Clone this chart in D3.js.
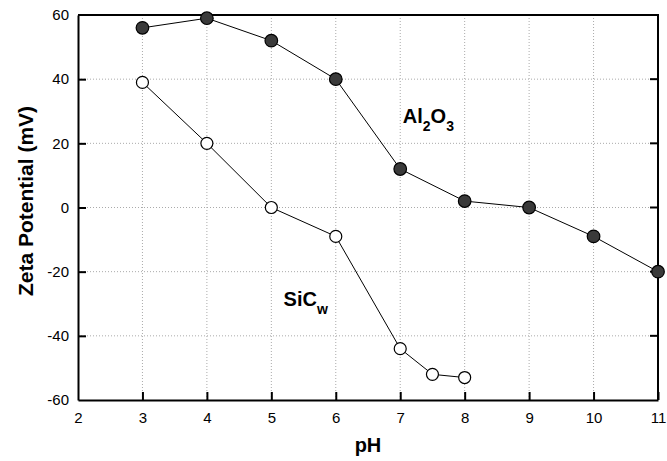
<!DOCTYPE html>
<html>
<head>
<meta charset="utf-8">
<script src="https://cdn.jsdelivr.net/npm/d3@7"></script>
<style>
  body { margin: 0; background: #fff; }
  text { font-family: "Liberation Sans", Arial, sans-serif; }
</style>
</head>
<body>
<div id="chart"></div>
<script>
// data
var alPH   = [3, 4, 5, 6, 7, 8, 9, 10, 11];
var alZeta = [56, 59, 52, 40, 12, 2, 0, -9, -20];
var sicPH   = [3, 4, 5, 6, 7, 7.5, 8];
var sicZeta = [39, 20, 0, -9, -44, -52, -53];
var xTicks = [2, 3, 4, 5, 6, 7, 8, 9, 10, 11];
var yTicks = [-60, -40, -20, 0, 20, 40, 60];

var W = 667, H = 461;
var margin = {top: 15, right: 9, bottom: 61, left: 78};
var width = W - margin.left - margin.right,
    height = H - margin.top - margin.bottom;

var svg = d3.select("#chart").append("svg")
    .attr("width", W).attr("height", H);
var g = svg.append("g")
    .attr("transform", "translate(" + margin.left + "," + margin.top + ")");

var x = d3.scaleLinear().domain([2, 11]).range([0, width]);
var y = d3.scaleLinear().domain([-60, 60]).range([height, 0]);

// grid
g.append("g").selectAll("line")
  .data(xTicks.slice(1, -1))
  .enter().append("line")
    .attr("x1", d => x(d)).attr("x2", d => x(d))
    .attr("y1", 0).attr("y2", height)
    .attr("stroke", "#aaa").attr("stroke-width", 1)
    .attr("stroke-dasharray", "1,2");
g.append("g").selectAll("line")
  .data(yTicks.slice(1, -1))
  .enter().append("line")
    .attr("y1", d => y(d)).attr("y2", d => y(d))
    .attr("x1", 0).attr("x2", width)
    .attr("stroke", "#aaa").attr("stroke-width", 1)
    .attr("stroke-dasharray", "1,2");

// axes, ticks pointing inward
var fmt = d => String(d);
var xAxis = g.append("g")
    .attr("transform", "translate(0," + height + ")")
    .call(d3.axisBottom(x).tickValues(xTicks).tickFormat(fmt)
      .tickSizeInner(-8).tickSizeOuter(0).tickPadding(12));
var yAxis = g.append("g")
    .call(d3.axisLeft(y).tickValues(yTicks).tickFormat(fmt)
      .tickSizeInner(-8).tickSizeOuter(0).tickPadding(9));
[xAxis, yAxis].forEach(function(a) {
  a.attr("font-size", null).attr("font-family", null);
  a.select(".domain").attr("stroke", "#000").attr("stroke-width", 2);
  a.selectAll(".tick line").attr("stroke", "#000").attr("stroke-width", 2);
  a.selectAll(".tick text").attr("fill", "#000")
    .style("font-size", "15px");
});
// hide end tick marks that overlap the frame
xAxis.selectAll(".tick line").filter(d => d === 2).remove();
yAxis.selectAll(".tick line").filter(d => d === -60 || d === 60).remove();

// right-hand ticks
g.append("g").selectAll("line")
  .data(yTicks.slice(1, -1))
  .enter().append("line")
    .attr("x1", width).attr("x2", width - 8)
    .attr("y1", d => y(d)).attr("y2", d => y(d))
    .attr("stroke", "#000").attr("stroke-width", 2);

// frame top & right
g.append("path")
  .attr("d", "M0,0H" + width + "V" + height)
  .attr("fill", "none").attr("stroke", "#000").attr("stroke-width", 2);

// series
var line = d3.line().x(d => x(d[0])).y(d => y(d[1]));
var al = alPH.map((p, i) => [p, alZeta[i]]);
var sic = sicPH.map((p, i) => [p, sicZeta[i]]);

g.append("path").datum(al).attr("d", line)
  .attr("fill", "none").attr("stroke", "#000").attr("stroke-width", 1);
g.append("path").datum(sic).attr("d", line)
  .attr("fill", "none").attr("stroke", "#000").attr("stroke-width", 1);

g.append("g").selectAll("circle").data(al).enter().append("circle")
  .attr("cx", d => x(d[0])).attr("cy", d => y(d[1])).attr("r", 6.3)
  .attr("fill", "#3a3a3a").attr("stroke", "#000").attr("stroke-width", 1.2);
g.append("g").selectAll("circle").data(sic).enter().append("circle")
  .attr("cx", d => x(d[0])).attr("cy", d => y(d[1])).attr("r", 6)
  .attr("fill", "#fff").attr("stroke", "#000").attr("stroke-width", 1.2);

// series labels
var alLab = g.append("text").attr("x", x(7.04)).attr("y", y(26.3))
  .style("font-size", "20px").style("font-weight", "bold");
alLab.append("tspan").text("Al");
alLab.append("tspan").attr("dy", 8).style("font-size", "14px").text("2");
alLab.append("tspan").attr("dy", -8).text("O");
alLab.append("tspan").attr("dy", 8).style("font-size", "14px").text("3");

var sicLab = g.append("text").attr("x", x(5.19)).attr("y", y(-30.7))
  .style("font-size", "20px").style("font-weight", "bold");
sicLab.append("tspan").text("SiC");
sicLab.append("tspan").attr("dy", 8).style("font-size", "14px").text("w");

// axis titles
svg.append("text")
  .attr("x", margin.left + x(6.5)).attr("y", 452)
  .attr("text-anchor", "middle")
  .style("font-size", "20px").style("font-weight", "bold")
  .text("pH");
svg.append("text")
  .attr("transform", "translate(33,201) rotate(-90)")
  .attr("text-anchor", "middle")
  .style("font-size", "21px").style("font-weight", "bold")
  .text("Zeta Potential (mV)");
</script>
</body>
</html>
